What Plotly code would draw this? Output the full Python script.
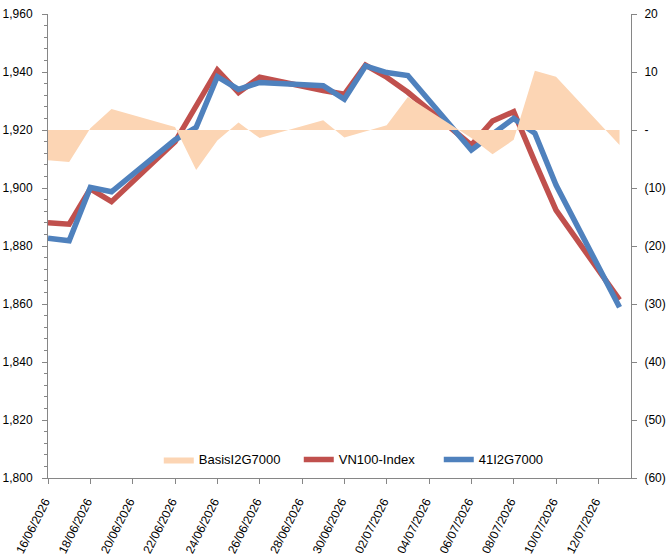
import plotly.graph_objects as go

dates = ["2026-06-16", "2026-06-17", "2026-06-18", "2026-06-19", "2026-06-22",
         "2026-06-23", "2026-06-24", "2026-06-25", "2026-06-26", "2026-06-29",
         "2026-06-30", "2026-07-01", "2026-07-02", "2026-07-03", "2026-07-06",
         "2026-07-07", "2026-07-08", "2026-07-09", "2026-07-10", "2026-07-13"]
vn100 = [1888.0, 1887.5, 1899.7, 1895.3, 1915.9, 1928.5, 1940.7, 1932.9, 1938.2, 1933.6,
         1932.3, 1942.4, 1938.2, 1933.0, 1914.8, 1923.1, 1926.3, 1909.0, 1892.4, 1861.4]
fut41 = [1882.7, 1881.8, 1900.2, 1898.7, 1916.6, 1920.9, 1938.4, 1934.0, 1936.4, 1935.3,
         1930.6, 1942.1, 1939.8, 1938.8, 1913.1, 1918.3, 1924.0, 1918.9, 1901.0, 1858.9]
basis = [-5.2, -5.5, 0.3, 3.6, 0.5, -6.9, -1.8, 1.3, -1.4, 1.7,
         -1.3, -0.3, 0.8, 5.7, -1.4, -4.2, -1.7, 10.2, 9.2, -2.6]

right_vals = [20, 10, 0, -10, -20, -30, -40, -50, -60]
right_text = ["20", "10", "-", "(10)", "(20)", "(30)", "(40)", "(50)", "(60)"]

FONT = "Liberation Sans, Arial, sans-serif"
AXIS_COLOR = "#868686"

fig = go.Figure()
fig.add_trace(go.Scatter(x=dates, y=basis, name="BasisI2G7000", mode="lines",
                         fill="tozeroy", fillcolor="#FCD5B4",
                         line=dict(width=0, color="#FCD5B4"), yaxis="y2"))
fig.add_trace(go.Scatter(x=dates, y=vn100, name="VN100-Index", mode="lines",
                         line=dict(color="#C0504D", width=5.5)))
fig.add_trace(go.Scatter(x=dates, y=fut41, name="41I2G7000", mode="lines",
                         line=dict(color="#4F81BD", width=5.5)))

fig.update_layout(
    width=671, height=560,
    margin=dict(l=48, r=40, t=14, b=82),
    paper_bgcolor="white", plot_bgcolor="white",
    font=dict(family=FONT, size=12, color="#000000"),
    showlegend=True,
    legend=dict(orientation="h", x=0.19, xanchor="left", y=0.04, yanchor="middle",
                bgcolor="rgba(0,0,0,0)", font=dict(size=13), traceorder="normal",
                entrywidth=95, entrywidthmode="pixels"),
    xaxis=dict(type="date", range=["2026-06-16", "2026-07-13 13:00"],
               tick0="2026-06-16", dtick=2 * 86400000,
               tickformat="%d/%m/%Y\u00a0\u00a0",
               tickangle=-63, ticks="outside", ticklen=5, tickcolor=AXIS_COLOR,
               showline=True, linecolor=AXIS_COLOR, linewidth=1, automargin=False,
               showgrid=False, zeroline=False, tickfont=dict(size=12)),
    yaxis=dict(range=[1800, 1960], dtick=20, tickformat=",",
               ticks="outside", ticklen=5, tickcolor=AXIS_COLOR, automargin=False,
               ticklabelstandoff=7,
               minor=dict(dtick=4, ticks="outside", ticklen=3, tickcolor=AXIS_COLOR),
               showline=True, linecolor=AXIS_COLOR, linewidth=1,
               showgrid=False, zeroline=False, tickfont=dict(size=12)),
    yaxis2=dict(range=[-60, 20], overlaying="y", side="right",
                tickvals=right_vals, ticktext=right_text, automargin=False,
                ticks="outside", ticklen=5, tickcolor=AXIS_COLOR,
                ticklabelstandoff=5,
                showline=True, linecolor=AXIS_COLOR, linewidth=1,
                showgrid=False, zeroline=False, tickfont=dict(size=12)),
)

fig.write_html("out.html")
